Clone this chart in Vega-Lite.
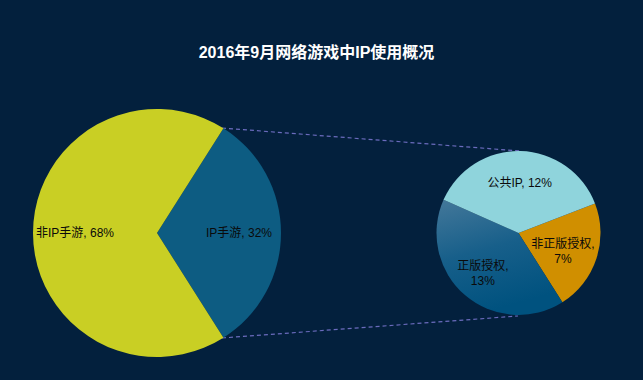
{
  "$schema": "https://vega.github.io/schema/vega-lite/v6.json",
  "width": 643,
  "height": 380,
  "autosize": {"type": "none"},
  "padding": 0,
  "background": "#03203d",
  "config": {"view": {"stroke": null}},
  "title": {
    "text": "2016年9月网络游戏中IP使用概况",
    "font": "Liberation Sans, Noto Sans CJK SC",
    "fontSize": 16,
    "fontWeight": "bold",
    "color": "#ffffff",
    "anchor": "middle",
    "baseline": "bottom",
    "offset": -77,
    "dx": -5
  },
  "data": {
    "values": [
      {"pie": "main", "name": "IP手游", "value": 32, "order": 1, "label": "IP手游, 32%"},
      {"pie": "main", "name": "非IP手游", "value": 68, "order": 2, "label": "非IP手游, 68%"},
      {"pie": "detail", "name": "非正版授权", "value": 7, "order": 1, "label": "非正版授权,\n7%"},
      {"pie": "detail", "name": "正版授权", "value": 13, "order": 2, "label": "正版授权,\n13%"},
      {"pie": "detail", "name": "公共IP", "value": 12, "order": 3, "label": "公共IP, 12%"}
    ]
  },
  "layer": [
    {
      "data": {"values": [{"k": 1}]},
      "mark": {"type": "rule", "stroke": "#6b6bbd", "strokeWidth": 1.2, "strokeDash": [4, 3]},
      "encoding": {
        "x": {"datum": 222, "type": "quantitative", "scale": {"domain": [0, 643], "nice": false, "zero": false}, "axis": null},
        "y": {"datum": 128, "type": "quantitative", "scale": {"domain": [0, 380], "nice": false, "zero": false, "reverse": true}, "axis": null},
        "x2": {"datum": 520},
        "y2": {"datum": 151}
      }
    },
    {
      "data": {"values": [{"k": 1}]},
      "mark": {"type": "rule", "stroke": "#6b6bbd", "strokeWidth": 1.2, "strokeDash": [4, 3]},
      "encoding": {
        "x": {"datum": 222, "type": "quantitative"},
        "y": {"datum": 338, "type": "quantitative"},
        "x2": {"datum": 518},
        "y2": {"datum": 316}
      }
    },
    {
      "transform": [{"filter": "datum.pie === 'main'"}],
      "mark": {"type": "arc", "outerRadius": 124},
      "encoding": {
        "x": {"datum": 157, "type": "quantitative"},
        "y": {"datum": 233, "type": "quantitative"},
        "theta": {"field": "value", "type": "quantitative", "stack": true, "scale": {"range": [0.5655, 6.8487]}},
        "order": {"field": "order"},
        "color": {
          "field": "name", "type": "nominal", "legend": null,
          "scale": {"domain": ["IP手游", "非IP手游", "非正版授权", "正版授权", "公共IP"], "range": ["#0d5c82", "#c9cf24", "#d08f00", "#0f5a86", "#8fd4dc"]}
        }
      }
    },
    {
      "transform": [{"filter": "datum.pie === 'main'"}],
      "mark": {"type": "text", "radius": 82, "fontSize": 12, "font": "Liberation Sans, Noto Sans CJK SC", "fill": "#0a0a0a"},
      "encoding": {
        "x": {"datum": 157, "type": "quantitative"},
        "y": {"datum": 233, "type": "quantitative"},
        "theta": {"field": "value", "type": "quantitative", "stack": true, "scale": {"range": [0.5655, 6.8487]}},
        "order": {"field": "order"},
        "text": {"field": "label"}
      }
    },
    {
      "transform": [{"filter": "datum.pie === 'detail'"}],
      "mark": {"type": "arc", "outerRadius": 82},
      "encoding": {
        "x": {"datum": 518.5, "type": "quantitative"},
        "y": {"datum": 233, "type": "quantitative"},
        "theta": {"field": "value", "type": "quantitative", "stack": true, "scale": {"range": [1.2025, 7.4857]}},
        "order": {"field": "order"},
        "color": {
          "condition": {
            "test": "datum.name === '正版授权'",
            "value": {"gradient": "linear", "x1": 0, "y1": 0, "x2": 0.3, "y2": 1, "stops": [{"offset": 0, "color": "#44789a"}, {"offset": 0.5, "color": "#175f8a"}, {"offset": 1, "color": "#00527f"}]}
          },
          "field": "name", "type": "nominal", "legend": null
        }
      }
    },
    {
      "transform": [{"filter": "datum.pie === 'detail'"}],
      "mark": {"type": "text", "radius": 50, "fontSize": 12, "font": "Liberation Sans, Noto Sans CJK SC", "fill": "#0a0a0a"},
      "encoding": {
        "x": {"datum": 518.5, "type": "quantitative"},
        "y": {"datum": 233, "type": "quantitative"},
        "theta": {"field": "value", "type": "quantitative", "stack": true, "scale": {"range": [1.2025, 7.4857]}},
        "order": {"field": "order"},
        "text": {"condition": {"test": "datum.name === '公共IP'", "field": "label"}, "value": ""}
      }
    },
    {
      "transform": [{"filter": "datum.pie === 'detail'"}],
      "mark": {"type": "text", "radius": 50, "fontSize": 12, "lineBreak": "\n", "lineHeight": 15, "dy": -5, "dx": -3, "font": "Liberation Sans, Noto Sans CJK SC", "fill": "#0a0a0a"},
      "encoding": {
        "x": {"datum": 518.5, "type": "quantitative"},
        "y": {"datum": 233, "type": "quantitative"},
        "theta": {"field": "value", "type": "quantitative", "stack": true, "scale": {"range": [1.2025, 7.4857]}},
        "order": {"field": "order"},
        "text": {"condition": {"test": "datum.name !== '公共IP'", "field": "label"}, "value": ""}
      }
    }
  ],
  "resolve": {"scale": {"theta": "independent"}}
}
